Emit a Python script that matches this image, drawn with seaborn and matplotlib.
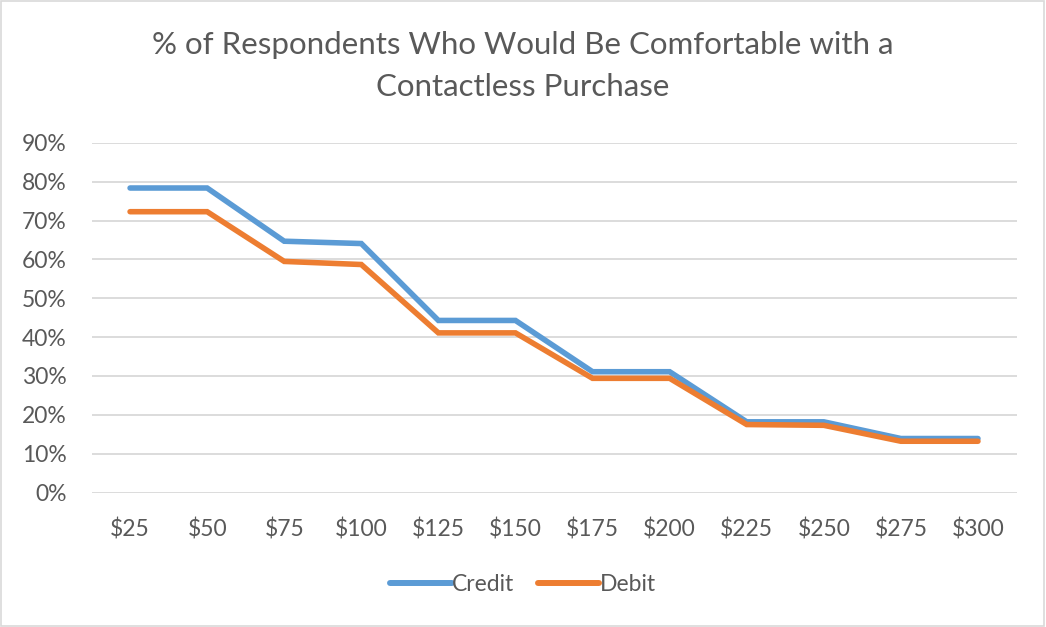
import matplotlib
matplotlib.use("Agg")
import matplotlib.pyplot as plt
import matplotlib.patches as mpatches
from matplotlib.ticker import PercentFormatter
import seaborn as sns
import pandas as pd

amounts = ["$25", "$50", "$75", "$100", "$125", "$150", "$175", "$200",
           "$225", "$250", "$275", "$300"]
credit = [78.4, 78.4, 64.7, 64.1, 44.3, 44.3, 31.1, 31.1, 18.2, 18.2, 13.9, 13.9]
debit = [72.3, 72.3, 59.5, 58.7, 41.1, 41.1, 29.4, 29.4, 17.5, 17.3, 13.2, 13.2]
series_names = ["Credit", "Debit"]
palette = {"Credit": "#5B9BD5", "Debit": "#ED7D31"}

df = pd.DataFrame({
    "Amount": amounts * 2,
    "Share": credit + debit,
    "Card": [series_names[0]] * len(amounts) + [series_names[1]] * len(amounts),
})
df["Amount"] = pd.Categorical(df["Amount"], categories=amounts, ordered=True)
df["pos"] = df["Amount"].cat.codes

sns.set_style("white")
plt.rcParams["font.family"] = ["Lato", "DejaVu Sans"]

fig = plt.figure(figsize=(10.46, 6.27), dpi=100)
ax = fig.add_axes([0.0875, 0.2145, 0.8843, 0.5575])

sns.lineplot(data=df, x="pos", y="Share", hue="Card", palette=palette,
             linewidth=4.0, ax=ax, legend=False, solid_capstyle="round",
             solid_joinstyle="miter")

ax.set_xlim(-0.5, len(amounts) - 0.5)
ax.set_ylim(0, 90)
ax.set_yticks(range(0, 91, 10))
ax.yaxis.set_major_formatter(PercentFormatter(decimals=0))
ax.set_xticks(range(len(amounts)))
ax.set_xticklabels(amounts)
ax.set_xlabel("")
ax.set_ylabel("")
ax.grid(axis="y", color="#D9D9D9", linewidth=1.3)
ax.set_axisbelow(True)
for s in ax.spines.values():
    s.set_visible(False)
ax.tick_params(axis="both", length=0, labelsize=16.5, colors="#595959")
ax.tick_params(axis="x", pad=19)
ax.tick_params(axis="y", pad=18)

fig.text(0.5, 0.928, "% of Respondents Who Would Be Comfortable with a",
         ha="center", va="center", fontsize=22.5, color="#595959")
fig.text(0.5, 0.862, "Contactless Purchase",
         ha="center", va="center", fontsize=22.5, color="#595959")

handles = [plt.Line2D([], [], color=palette[n], linewidth=4.3,
                      solid_capstyle="round") for n in series_names]
fig.legend(handles, series_names, loc="center", bbox_to_anchor=(0.5, 0.067),
           ncol=2, frameon=False, fontsize=16.5, handlelength=2.7,
           handletextpad=0.0, columnspacing=1.0, labelcolor="#595959")

fig.patches.append(mpatches.Rectangle((0.001, 0.001), 0.997, 0.997,
                   transform=fig.transFigure, fill=False,
                   edgecolor="#D9D9D9", linewidth=1.2))

fig.savefig("out.png", dpi=100, facecolor="white")
